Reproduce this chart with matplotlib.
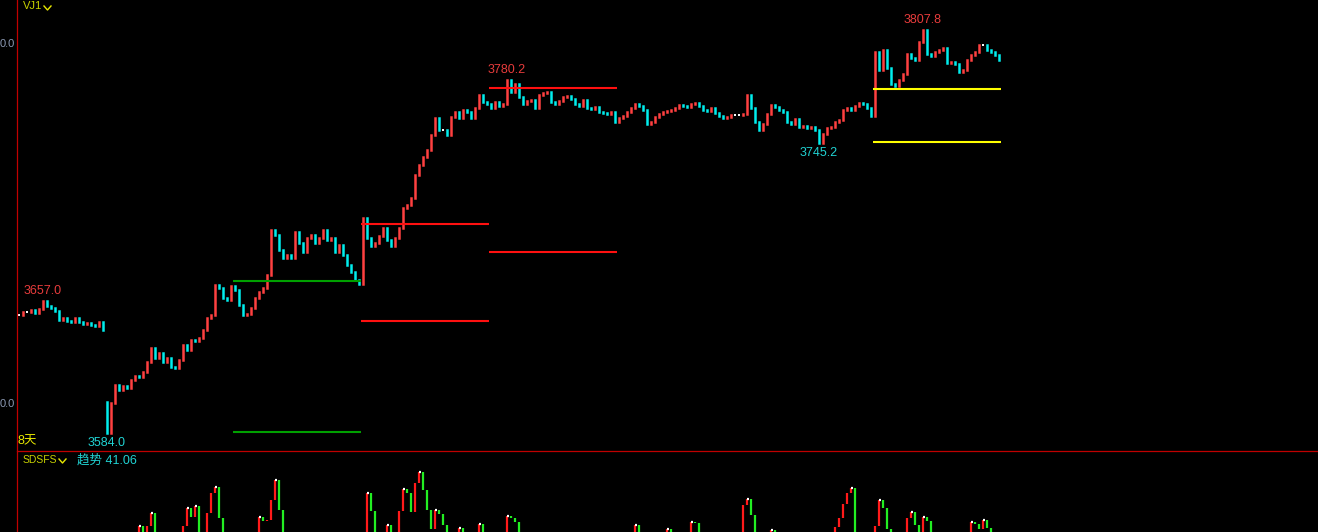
import numpy as np
import matplotlib
matplotlib.use("Agg")
import matplotlib.pyplot as plt
from matplotlib.lines import Line2D

plt.rcParams['font.family'] = ['Liberation Sans', 'Noto Sans CJK SC', 'DejaVu Sans']

W, H = 1318, 532

# closing prices, one per bar (8 sessions, first one partial)
day1 = [3649.4, 3651.1, 3651.1, 3652.2, 3650.6, 3652.8, 3657.0, 3654.4, 3653.3, 3651.7, 3646.7,
        3647.8, 3646.1, 3645.6, 3647.8, 3645.6, 3644.4, 3645.0, 3643.9, 3643.3, 3645.6, 3641.1]
day2 = [3584.0, 3600.6, 3610.6, 3607.8, 3610.0, 3608.9, 3613.3, 3615.6, 3615.0, 3617.8, 3623.3,
        3631.1, 3625.6, 3628.3, 3623.3, 3625.6, 3620.6, 3620.0, 3624.4, 3632.8, 3630.0, 3635.6,
        3635.0, 3636.7, 3641.1, 3647.8, 3649.4, 3666.1, 3664.4, 3658.9, 3657.8, 3665.6]
day3 = [3663.3, 3655.0, 3649.4, 3650.0, 3653.3, 3658.9, 3662.2, 3664.4, 3671.7, 3696.7, 3693.9,
        3685.6, 3681.1, 3682.8, 3681.1, 3695.6, 3689.4, 3684.4, 3692.2, 3693.9, 3689.4, 3692.2,
        3696.7, 3691.1, 3692.2, 3684.4, 3688.3, 3682.8, 3677.2, 3673.3, 3668.9, 3666.7]
day4 = [3703.3, 3692.2, 3687.8, 3689.4, 3693.3, 3697.8, 3691.1, 3687.8, 3692.2, 3697.8, 3708.9,
        3710.6, 3714.4, 3727.2, 3732.8, 3737.2, 3741.1, 3749.4, 3758.9, 3752.2, 3752.2, 3749.4,
        3759.4, 3762.2, 3758.9, 3763.3, 3762.2, 3758.9, 3764.4, 3771.7, 3767.8, 3766.7]
day5 = [3764.4, 3767.8, 3765.6, 3766.7, 3780.2, 3773.3, 3777.8, 3770.6, 3766.7, 3768.3, 3768.9,
        3764.4, 3771.7, 3772.8, 3773.3, 3767.8, 3766.7, 3768.3, 3770.6, 3771.1, 3769.4, 3766.7,
        3765.6, 3768.9, 3764.4, 3763.9, 3765.0, 3762.2, 3761.7, 3761.1, 3762.2, 3756.7]
day6 = [3758.9, 3760.0, 3762.2, 3764.4, 3766.7, 3765.6, 3763.3, 3755.6, 3756.7, 3759.4, 3761.1,
        3762.2, 3762.8, 3763.3, 3764.4, 3766.1, 3765.6, 3765.0, 3766.7, 3767.2, 3765.6, 3763.3,
        3762.8, 3764.4, 3761.7, 3760.0, 3758.9, 3759.4, 3760.6, 3760.6, 3760.6, 3761.1]
day7 = [3771.7, 3764.4, 3756.7, 3752.2, 3755.6, 3761.1, 3766.1, 3765.0, 3763.3, 3762.2, 3756.7,
        3755.6, 3758.3, 3753.9, 3754.4, 3753.3, 3753.9, 3752.2, 3745.2, 3750.0, 3753.3, 3753.9,
        3756.7, 3757.8, 3763.3, 3764.4, 3763.3, 3765.6, 3767.2, 3766.7, 3764.4, 3760.0]
day8 = [3795.6, 3785.6, 3796.7, 3786.7, 3777.8, 3776.7, 3780.0, 3783.3, 3794.4, 3792.2, 3791.1,
        3801.1, 3807.8, 3794.4, 3793.3, 3795.6, 3796.7, 3797.8, 3789.4, 3790.0, 3788.9, 3784.4,
        3785.6, 3791.1, 3793.9, 3795.6, 3799.4, 3799.4, 3796.7, 3795.6, 3793.9, 3791.1]
closes = day1 + day2 + day3 + day4 + day5 + day6 + day7 + day8

# bars that open away from the previous close (session gap)
gap_bars = [22]
gap_opens = [3601.0]

# marked extremes (bar index, above/below)
ext_bars = [6, 22, 122, 200, 226]
ext_above = [True, False, True, False, True]

# reference levels: session start bar, price, colour
lvl_start = [54, 54, 86, 86, 118, 118, 214, 214]
lvl_price = [3668.3, 3584.4, 3700.0, 3646.1, 3775.6, 3684.4, 3775.0, 3745.6]
lvl_color = ['#00a000', '#00a000', '#ff1010', '#ff1010', '#ff1010', '#ff1010', '#ffff00', '#ffff00']

# trend indicator spikes (bar index, value); other bars sit below the visible window
trend_bars = [29, 30, 31, 32, 33, 34, 41, 42, 43, 44, 45, 47, 48, 49, 50, 51,
              59, 60, 61, 62, 63, 64, 65, 66, 87, 88, 89, 92, 93,
              95, 96, 97, 98, 99, 100, 101, 102, 103, 104, 105, 106, 107,
              110, 111, 115, 116, 122, 123, 124, 125, 154, 155, 162, 163, 168, 169, 170,
              181, 182, 183, 184, 188, 189, 204, 205, 206, 207, 208, 209,
              214, 215, 216, 217, 218, 222, 223, 224, 225, 226, 227, 228,
              238, 239, 240, 241, 242, 243, 244, 245]
trend_vals = [40, 49.7, 38, 50, 58.4, 45, 50, 61.7, 55.7, 63.1, 45, 58.4, 71.8, 75.8, 55, 40,
              45, 55.7, 53, 53.7, 67.1, 80.5, 60.4, 40, 71.8, 59.7, 40, 50.3, 40,
              60, 74.5, 71.8, 59.1, 78.5, 85.9, 73.8, 60.4, 47.7, 60.4, 58, 50.3, 40,
              48.3, 40, 51, 40, 56.4, 55, 52.3, 40, 50.3, 40, 47.5, 40, 52.3, 51.5, 40,
              63.8, 67.8, 57, 40, 47, 40, 49, 55, 64.4, 71.8, 75.2, 45,
              50, 67.1, 62, 47.7, 40, 55, 59.1, 50.3, 40, 55.7, 53, 40,
              52.3, 51, 47.5, 53.7, 48.3, 40, 41, 41.06]

RED = '#ff4040'
CYAN = '#00eeee'

fig = plt.figure(figsize=(W / 100, H / 100), dpi=100, facecolor='black')


def fx(x):
    return x / W


def fy(y):
    return 1 - y / H


# main price pane: pixel rows 0..450, bar i centred at pixel 19 + 4 i
ax = fig.add_axes([fx(17), fy(450), fx(W - 17), 450 / H])
ax.set_facecolor('black')
ax.set_xlim(-0.5, -0.5 + (W - 17) / 4)
ax.set_ylim(3800 - 406 / 1.8, 3800 + 44 / 1.8)
ax.axis('off')

c = np.array(closes)
o = np.r_[c[0], c[:-1]]
o[gap_bars] = gap_opens
idx = np.arange(len(c))
up = c > o + 0.05
dn = c < o - 0.05
flat = ~(up | dn)
ax.vlines(idx[up], o[up], c[up], color=RED, lw=1.8, capstyle='projecting')
ax.vlines(idx[dn], c[dn], o[dn], color=CYAN, lw=1.8, capstyle='projecting')
ax.hlines(c[flat], idx[flat] - 0.3, idx[flat] + 0.3, color='white', lw=1.4)

for s, p, col in zip(lvl_start, lvl_price, lvl_color):
    ax.plot([s - 0.5, s + 31.5], [p, p], color=col, lw=1.5, solid_capstyle='butt')

for b, above in zip(ext_bars, ext_above):
    ax.annotate(f'{closes[b]:.1f}', xy=(b, closes[b]), xytext=(0, 10 if above else -10),
                textcoords='offset pixels', ha='center', va='center', fontsize=9,
                color='#e83c3c' if above else '#20d4d4')

# indicator pane (extends below the figure edge, so only the tops show)
ax2 = fig.add_axes([fx(17), fy(600), fx(W - 17), 149 / H])
ax2.set_facecolor('black')
ax2.set_xlim(ax.get_xlim())
ax2.set_ylim(0, 100)
ax2.axis('off')

v = np.full(len(c), 38.0)
v[trend_bars] = trend_vals
for i in range(1, len(v)):
    if v[i] > v[i - 1]:
        ax2.plot([i, i], [v[i - 1], v[i]], color='#ff1a1a', lw=1.6, solid_capstyle='butt')
    elif v[i] < v[i - 1]:
        ax2.plot([i, i], [v[i], v[i - 1]], color='#22ee22', lw=1.6, solid_capstyle='butt')
    if v[i] >= v[i - 1] and i + 1 < len(v) and v[i] >= v[i + 1] and v[i] > 45:
        ax2.plot([i - 0.1, i + 0.5], [v[i], v[i]], color='white', lw=1.6, solid_capstyle='butt')

# frame lines
fig.add_artist(Line2D([fx(17), fx(17)], [0, 1], color='#c00000', lw=0.9))
fig.add_artist(Line2D([fx(17), 1], [fy(450.5), fy(450.5)], color='#c00000', lw=0.9))

# price scale: only the tail of each label fits left of the frame
for p in [3800.0, 3600.0]:
    fig.text(fx(15), fy(44 + (3800 - p) * 1.8), f'{p:.1f}'[-3:], ha='right', va='center',
             fontsize=8, color='#8c9ab4')

fig.text(fx(23), fy(6), 'VJ1', ha='left', va='center', fontsize=8, color='#c8d200')
fig.add_artist(Line2D([fx(44), fx(47.5), fx(51)], [fy(6), fy(10), fy(6)], color='#e8e800', lw=1))
fig.text(fx(18), fy(441), '8天', ha='left', va='center', fontsize=9, color='#e8e800')
fig.text(fx(23), fy(460), 'SDSFS', ha='left', va='center', fontsize=7.5, color='#c8d200')
fig.add_artist(Line2D([fx(59), fx(62.5), fx(66)], [fy(459), fy(463), fy(459)], color='#e8e800', lw=1))
fig.text(fx(77), fy(460), f'趋势 {trend_vals[-1]:.2f}', ha='left', va='center', fontsize=9,
         color='#20d4d4')

fig.savefig('out.png', dpi=100, facecolor='black')
